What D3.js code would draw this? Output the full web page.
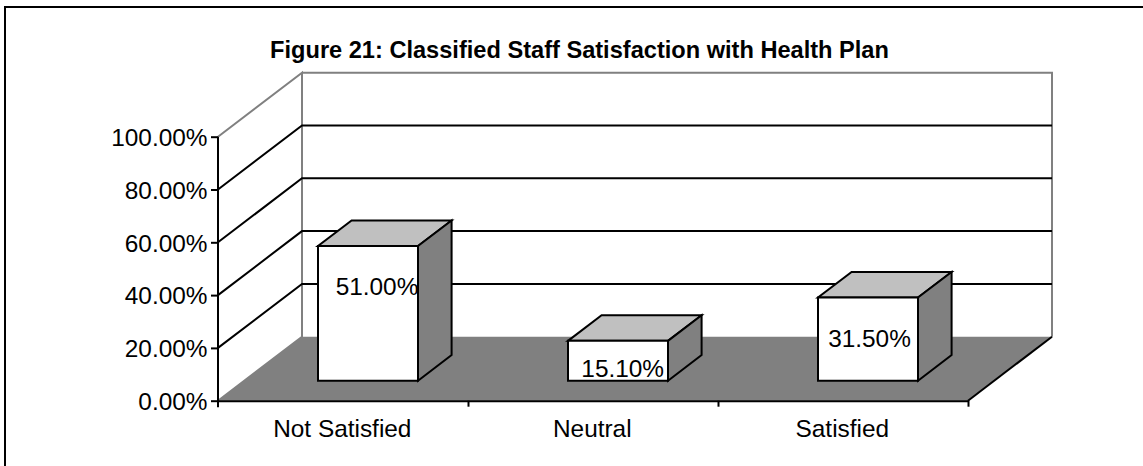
<!DOCTYPE html>
<html><head><meta charset="utf-8">
<script src="https://cdn.jsdelivr.net/npm/d3@7"></script>
<style>html,body{margin:0;padding:0;background:#fff}svg{display:block}text{font-family:"Liberation Sans",Arial,sans-serif;fill:#000}</style>
</head><body><svg id="c" width="1143" height="466"></svg>
<script>
const titleText = "Figure 21: Classified Staff Satisfaction with Health Plan";
const categories = ["Not Satisfied", "Neutral", "Satisfied"];
const values = [51.0, 15.1, 31.5];
const valueLabels = ["51.00%", "15.10%", "31.50%"];
const yTicks = [0, 20, 40, 60, 80, 100];
const yTickLabels = ["0.00%", "20.00%", "40.00%", "60.00%", "80.00%", "100.00%"];

const svg = d3.select("#c");
const x = d3.scaleBand().domain(categories).range([218, 968]).paddingInner(0).paddingOuter(0);
const y = d3.scaleLinear().domain([0, 100]).range([400.7, 136.7]);
const depthX = d3.scaleLinear().domain([0, 1]).range([0, 84]);
const depthY = d3.scaleLinear().domain([0, 1]).range([0, -64]);
const BAR = 0.4, D0 = 0.3125, D1 = 0.7125, SW = 2, FS = 24.4;
const labelNudge = [[9, -18.7], [4.7, 16.6], [1.5, 7.8]];
const line = d3.line();
const P = (px, py, d) => [px + depthX(d), py + depthY(d)];

// frame: only top and left edges are inside the picture
svg.append("path").attr("d", "M5,466V7H1143").attr("fill", "none").attr("stroke", "#000").attr("stroke-width", SW);

// floor
const [xl, xr] = x.range();
svg.append("path").attr("d", line([P(xl,y(0),0),P(xr,y(0),0),P(xr,y(0),1),P(xl,y(0),1)]) + "Z").attr("fill", "#808080");
// walls
svg.append("path").attr("d", line([P(xl,y(0),0),P(xl,y(0),1),P(xl,y(100),1),P(xl,y(100),0)])).attr("fill","none").attr("stroke","#808080").attr("stroke-width",SW);
svg.append("path").attr("d", line([P(xl,y(100),1),P(xr,y(100),1),P(xr,y(0),1)])).attr("fill","none").attr("stroke","#808080").attr("stroke-width",SW);
// gridlines
svg.append("g").selectAll("path").data(yTicks.slice(1,-1)).join("path")
  .attr("d", t => line([P(xl,y(t),0),P(xl,y(t),1),P(xr,y(t),1)]))
  .attr("fill","none").attr("stroke","#000").attr("stroke-width",SW);
// floor right edge
svg.append("path").attr("d", line([P(xr,y(0),0),P(xr,y(0),1)])).attr("stroke","#000").attr("stroke-width",SW);

// axes
const yAxis = d3.axisLeft(y).tickValues(yTicks).tickFormat((d,i)=>yTickLabels[i]).tickSize(7).tickPadding(3.5);
const gy = svg.append("g").attr("transform",`translate(${xl},0)`).call(yAxis);
gy.selectAll("text").style("font-size",FS+"px").attr("dy","0.36em");
gy.selectAll("line,path").attr("stroke","#000").attr("stroke-width",SW);
gy.select("path").attr("d",`M0,${y(100)}V${y(0)+6.5}`);

const tickScale = d3.scaleLinear().domain([0,categories.length]).range(x.range());
const xAxisG = svg.append("g").attr("transform",`translate(0,${y(0)})`)
  .call(d3.axisBottom(tickScale).tickValues([1,2,3]).tickFormat("").tickSize(6).tickSizeOuter(0));
xAxisG.selectAll("line,path").attr("stroke","#000").attr("stroke-width",SW);
svg.append("g").selectAll("text").data(categories).join("text")
  .attr("x", d => x(d)+x.bandwidth()/2-0.7).attr("y", 436.8).attr("text-anchor","middle").style("font-size",FS+"px").text(d=>d);

// bars
const bw = x.bandwidth()*BAR, inset = 100 - depthX(D0);
const bars = svg.append("g").selectAll("g").data(categories).join("g");
const xs = d => x(d)+inset;
const val = i => values[i];
bars.append("path").attr("d",(d,i)=>{const a=xs(d),b=a+bw;return line([P(a,y(val(i)),D0),P(b,y(val(i)),D0),P(b,y(val(i)),D1),P(a,y(val(i)),D1)])+"Z";})
  .attr("fill","#c0c0c0").attr("stroke","#000").attr("stroke-width",SW);
bars.append("path").attr("d",(d,i)=>{const b=xs(d)+bw;return line([P(b,y(val(i)),D0),P(b,y(val(i)),D1),P(b,y(0),D1),P(b,y(0),D0)])+"Z";})
  .attr("fill","#808080").attr("stroke","#000").attr("stroke-width",SW);
bars.append("path").attr("d",(d,i)=>{const a=xs(d),b=a+bw;return line([P(a,y(val(i)),D0),P(b,y(val(i)),D0),P(b,y(0),D0),P(a,y(0),D0)])+"Z";})
  .attr("fill","#fff").attr("stroke","#000").attr("stroke-width",SW);
bars.append("text").attr("x",(d,i)=>P(xs(d)+bw/2,0,D0)[0]+labelNudge[i][0]).attr("text-anchor","middle")
  .attr("y",(d,i)=>P(0,y(val(i)/2),D0)[1]+labelNudge[i][1])
  .style("font-size",FS+"px").text((d,i)=>valueLabels[i]);

svg.append("text").attr("x",579.5).attr("y",57.5).attr("text-anchor","middle").attr("font-weight","bold").style("font-size","23.6px").text(titleText);
</script></body></html>
